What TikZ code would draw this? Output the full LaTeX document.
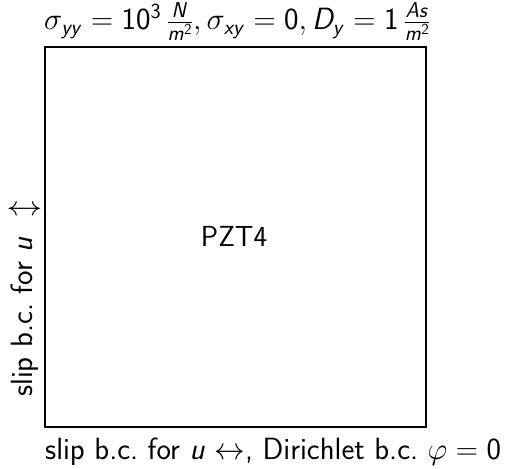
\RequirePackage{fix-cm}
\documentclass[tikz,border=0pt]{standalone}
\makeatletter
\DeclareSymbolFont{sfitletters}{OT1}{cmss}{m}{sl}
\DeclareSymbolFont{sfdigits}{OT1}{cmss}{m}{n}
\@for\@ltr:=A,D,N,m,s,u,x,y\do{%
  \expandafter\DeclareMathSymbol\expandafter{\@ltr}{\mathalpha}{sfitletters}{\expandafter`\@ltr}}
\@for\@ltr:=0,1,2,3\do{%
  \expandafter\DeclareMathSymbol\expandafter{\@ltr}{\mathalpha}{sfdigits}{\expandafter`\@ltr}}
\makeatother
\tikzset{
  lbl/.style={inner sep=0pt, font=\sffamily\fontsize{30.7}{36}\selectfont},
  matlbl/.style={inner sep=0pt, font=\sffamily\fontsize{29}{34}\selectfont},
  squarebox/.style={draw, line width=2pt}
}
\begin{document}
\begin{tikzpicture}[x=1pt,y=1pt]
\useasboundingbox (0,0) rectangle (505,468);
\draw[squarebox] (45,421) rectangle (426,41);
\node[matlbl] (mat) at (234,231.5) {PZT4};
\node[lbl, anchor=base west] (top) at (44,438) {$\sigma_{yy}=10^3\,\frac{N}{m^2},\sigma_{xy}=0,D_y=1\,\frac{As}{m^2}$};
\node[lbl, anchor=base west] (bot) at (45,9) {\frenchspacing slip b.c. for $u\leftrightarrow$, Dirichlet b.c. $\varphi=0$};
\node[lbl, anchor=base west, rotate=90] (left) at (32,71) {\frenchspacing slip b.c. for $u$\ \ $\updownarrow$};
\end{tikzpicture}
\end{document}
